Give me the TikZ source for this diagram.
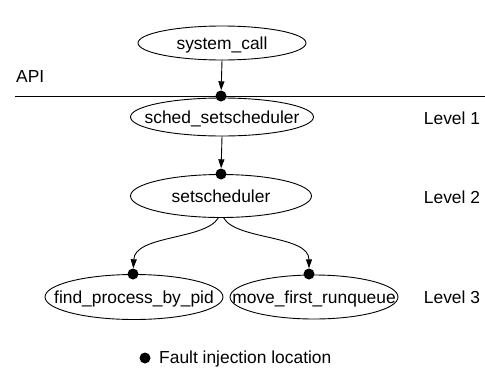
\documentclass[tikz,border=0pt]{standalone}
\usepackage{fontspec}
\setmainfont{Liberation Sans}
\usetikzlibrary{shapes.geometric,arrows.meta}
\newcommand{\fntxt}[1]{\makebox[0pt]{\raisebox{-0.36em}[0pt][0pt]{#1}}}
\begin{document}
\begin{tikzpicture}[x=1pt,y=-1pt,
  fn/.style={ellipse,draw,line width=0.9pt,inner sep=0pt,font=\fontsize{17.4}{20}\selectfont},
  lbl/.style={font=\fontsize{17.4}{20}\selectfont,inner sep=0pt},
  fdot/.style={circle,fill=black,inner sep=0pt,minimum size=11pt},
  conn/.style={line width=0.9pt,-{Triangle[length=9pt,width=6pt]}}]
\useasboundingbox (0,0) rectangle (485,370);
% API line
\coordinate (apiL) at (15,96);
\coordinate (apiR) at (485,96);
\draw[line width=0.9pt] (apiL) -- (apiR);
\node[lbl,anchor=west] (api) at (16,77) {API};
% function nodes
\node[fn,minimum width=168pt,minimum height=34pt] (sc) at (222,43) {\fntxt{system\_call}};
\node[fn,minimum width=183pt,minimum height=38pt] (ss) at (222,117) {\fntxt{sched\_setscheduler}};
\node[fn,minimum width=181pt,minimum height=43pt] (set) at (221,196) {\fntxt{setscheduler}};
\node[fn,minimum width=178pt,minimum height=45pt] (find) at (134,297) {\fntxt{find\_process\_by\_pid}};
\node[fn,minimum width=168pt,minimum height=44pt] (move) at (314,297) {\fntxt{move\_first\_runqueue}};
% level labels
\node[lbl] (l1) at (452,118) {Level 1};
\node[lbl] (l2) at (452,197) {Level 2};
\node[lbl] (l3) at (452,297) {Level 3};
% fault dots
\node[fdot] (d0) at (221,96) {};
\node[fdot] (d1) at (221,174) {};
\node[fdot] (d2) at (133,274) {};
\node[fdot] (d3) at (309,274) {};
% connectors
\draw[conn] (sc.south) -- (d0);
\draw[conn] (ss.south) -- (d1);
\draw[conn] (set.263) .. controls (205,240) and (135,235) .. (d2);
\draw[conn] (set.277) .. controls (236,240) and (309,235) .. (d3);
% legend
\node[fdot] (ld) at (145,358) {};
\node[lbl,anchor=west] (lt) at (159,359) {Fault injection location};
\end{tikzpicture}
\end{document}
